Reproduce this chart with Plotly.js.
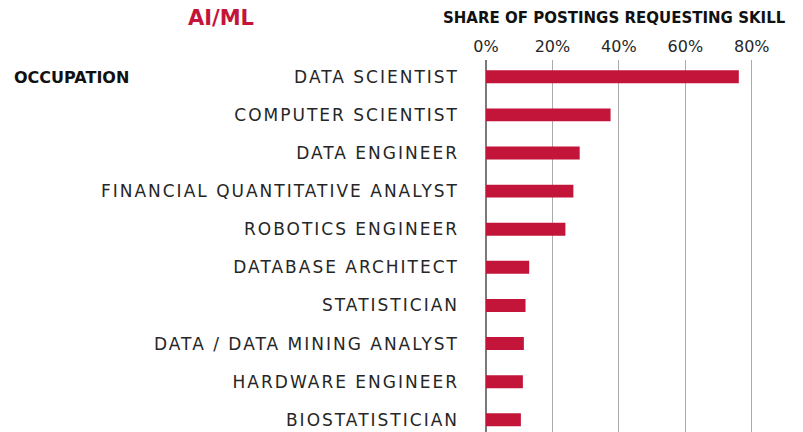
<!DOCTYPE html>
<html>
<head>
<meta charset="utf-8">
<script src="https://cdn.plot.ly/plotly-3.0.1.min.js"></script>
<style>
  html, body { margin: 0; padding: 0; background: #fff; }
  #plot { width: 803px; height: 432px; }
  /* wide, airy occupation labels */
  #plot .yaxislayer-above text { letter-spacing: 2px; }
</style>
</head>
<body>
<div id="plot"></div>
<script>
  // AI/ML skill share by occupation
  const occupations = [
    'DATA SCIENTIST',
    'COMPUTER SCIENTIST',
    'DATA ENGINEER',
    'FINANCIAL QUANTITATIVE ANALYST',
    'ROBOTICS ENGINEER',
    'DATABASE ARCHITECT',
    'STATISTICIAN',
    'DATA / DATA MINING ANALYST',
    'HARDWARE ENGINEER',
    'BIOSTATISTICIAN'
  ];
  const shares = [76.1, 37.5, 28.2, 26.3, 23.9, 13.0, 11.9, 11.4, 11.1, 10.5];  // % of postings
  const xTicks = [0, 20, 40, 60, 80];
  const xTickLabels = ['0%', '20%', '40%', '60%', '80%'];

  const RED = '#c3143a';
  const INK = '#262626';

  const trace = {
    type: 'bar', orientation: 'h',
    x: shares, y: occupations,
    marker: { color: RED, line: { width: 0 } },
    hoverinfo: 'x+y'
  };

  const layout = {
    width: 803, height: 432,
    margin: { l: 486, r: 17, t: 60, b: 0 },
    paper_bgcolor: '#fff', plot_bgcolor: '#fff',
    showlegend: false,
    bargap: 0.66,
    font: { family: 'DejaVu Sans', color: INK },
    title: {
      text: 'AI/ML', xref: 'container', yref: 'container',
      x: 221 / 803, y: 1 - 18 / 432, xanchor: 'center', yanchor: 'middle',
      font: { family: 'DejaVu Sans', size: 21, weight: 700, color: RED }
    },
    xaxis: {
      side: 'top', range: [0, 90.3], fixedrange: true,
      tickmode: 'array', tickvals: xTicks, ticktext: xTickLabels,
      tickfont: { family: 'DejaVu Sans', size: 16, color: INK },
      showgrid: true, gridcolor: '#ababab', gridwidth: 1,
      zeroline: true, zerolinecolor: '#7a7a7a', zerolinewidth: 1.5,
      showline: false, ticks: '', ticklabelstandoff: 4
    },
    yaxis: {
      type: 'category', range: [9.32, -0.44], fixedrange: true,
      tickfont: { family: 'DejaVu Sans', size: 17, color: INK },
      showgrid: false, zeroline: false, showline: false, ticks: '',
      ticklabelstandoff: 26
    },
    annotations: [
      {
        text: '<b>SHARE OF POSTINGS REQUESTING SKILL</b>', xref: 'paper', yref: 'paper',
        x: (614 - 486) / 300, y: (432 - 18) / 372, xanchor: 'center', yanchor: 'middle',
        showarrow: false, font: { family: 'DejaVu Sans', size: 15, color: '#111' }
      },
      {
        text: '<b>OCCUPATION</b>', xref: 'paper', yref: 'paper',
        x: (12 - 486) / 300, y: (432 - 78) / 372, xanchor: 'left', yanchor: 'middle',
        showarrow: false, font: { family: 'DejaVu Sans', size: 16, color: '#111' }
      }
    ]
  };

  Plotly.newPlot('plot', [trace], layout, { displayModeBar: false, staticPlot: true });
</script>
</body>
</html>
